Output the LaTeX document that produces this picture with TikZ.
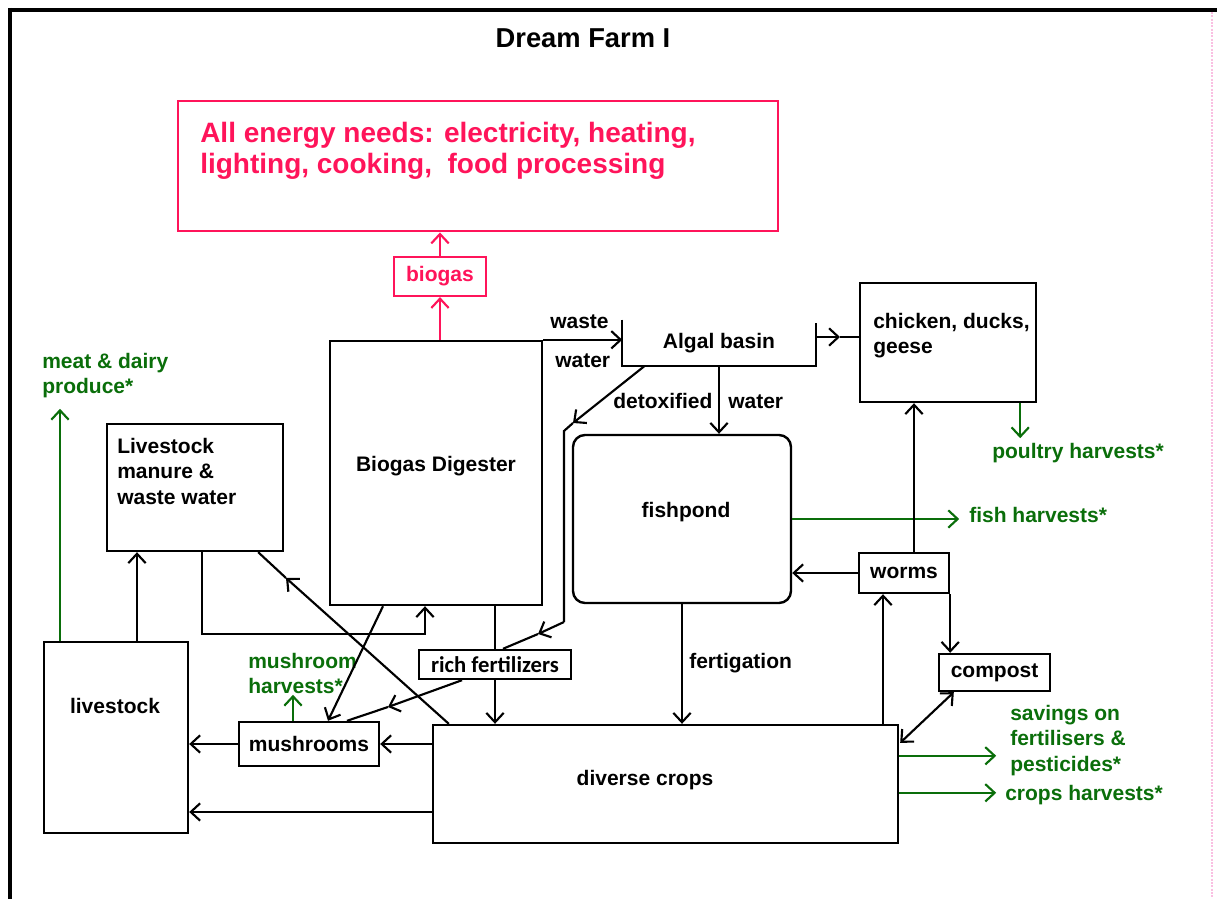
\documentclass[tikz,border=0pt]{standalone}
\usepackage{fontspec}
\setmainfont{Liberation Sans}
\newfontfamily\calfont{Carlito}
\usetikzlibrary{arrows.meta,fit,calc}
\definecolor{energypink}{RGB}{255,20,90}
\definecolor{harvestgreen}{RGB}{10,110,10}
\begin{document}
\begin{tikzpicture}[x=0.75pt, y=-0.75pt,
    every node/.style={font=\fontsize{15.75pt}{19pt}\selectfont\bfseries},
    box/.style={draw, line width=1.8pt, inner sep=0pt},
    txt/.style={inner sep=0pt, align=left},
    ln/.style={line width=1.6pt},
    arr/.style={line width=1.6pt, -{Straight Barb[length=7pt,width=13pt]}},
    darr/.style={line width=1.6pt, {Straight Barb[length=7pt,width=13pt]}-{Straight Barb[length=7pt,width=13pt]}},
    garr/.style={arr, harvestgreen},
    parr/.style={arr, energypink}]
  \useasboundingbox (0,0) rectangle (1218,899);
  \draw [line width=3pt] (8,10) -- (1217,10);
  \draw [line width=3pt] (10,8) -- (10,899);
  \draw [magenta!25, line width=1.5pt, densely dotted] (1212,12) -- (1212,899);

  \node (title) at (583,38) {\fontsize{20.5pt}{24pt}\selectfont Dream Farm I};

  \node [box, draw=energypink, line width=2.2pt, fit={(178,101) (778,231)}] (energy) {};
  \node [txt, text=energypink, anchor=north west, font=\fontsize{21pt}{23.5pt}\selectfont\bfseries] (energytxt) at (200,122)
    {All energy needs: electricity, heating,\\lighting, cooking,\ \ food processing};
  \node [box, draw=energypink, line width=1.6pt, text=energypink, minimum width=69pt, minimum height=29.25pt] (biogas) at (440,276.5) {biogas};

  \node [box, fit={(330,341) (542,605)}] (digester) {};
  \node [txt] (digestertxt) at (436,466) {Biogas Digester};
  \node [inner sep=0pt, minimum width=144.75pt, minimum height=34.5pt] (algal) at (719,343) {Algal basin};
  \draw [ln] (algal.north west) -- (algal.south west) -- (algal.south east) -- ($(algal.north east)+(0,3)$);
  \node [box, fit={(860,283) (1036,402)}] (chicken) {};
  \node [txt, anchor=north west] (chickentxt) at (873,313) {chicken, ducks,\\geese};
  \node [box, rounded corners=9pt, fit={(573,435) (791,603)}] (fish) {};
  \node [txt] (fishtxt) at (686,512) {fishpond};
  \node [box, minimum width=67.5pt, minimum height=30pt] (worms) at (904,573) {worms};
  \node [box, minimum width=83.25pt, minimum height=27.75pt] (compost) at (994.5,672.5) {compost};
  \node [box, minimum width=114pt, minimum height=21.75pt] (fert) at (495,664.5) {\calfont\fontsize{17pt}{20pt}\selectfont rich fertilizers};
  \node [box, minimum width=105pt, minimum height=33pt] (mush) at (309,744) {mushrooms};
  \node [box, fit={(433,725) (898,843)}] (crops) {};
  \node [txt] (cropstxt) at (645,780) {diverse crops};
  \node [box, fit={(44,642) (188,833)}] (livestock) {};
  \node [txt] (livestocktxt) at (115,706) {livestock};
  \node [box, fit={(107,424) (283,551)}] (manure) {};
  \node [txt, anchor=north west] (manuretxt) at (117,438) {Livestock\\manure \&\\waste water};

  \node [txt, text=harvestgreen, anchor=north west] (meatlbl) at (42,353) {meat \& dairy\\produce*};
  \node [txt, text=harvestgreen, anchor=north west] (mushlbl) at (248,653) {mushroom\\harvests*};
  \node [txt, text=harvestgreen, anchor=base west] (poultrylbl) at (992,458) {poultry harvests*};
  \node [txt, text=harvestgreen, anchor=base west] (fishlbl) at (969,522) {fish harvests*};
  \node [txt, text=harvestgreen, anchor=north west] (savelbl) at (1010,705) {savings on\\fertilisers \&\\pesticides*};
  \node [txt, text=harvestgreen, anchor=base west] (cropslbl) at (1005,800) {crops harvests*};

  \node [txt, anchor=base west] (wastelbl) at (550,328) {waste};
  \node [txt, anchor=base west] (waterlbl) at (555,367) {water};
  \node [txt, anchor=base west] (detoxlbl) at (613,408) {detoxified};
  \node [txt, anchor=base west] (water2lbl) at (728,408) {water};
  \node [txt, anchor=base west] (fertiglbl) at (689,668) {fertigation};

  \draw [parr] (digester.north -| biogas.south) -- (biogas.south);
  \draw [parr] (biogas.north) -- (biogas.north |- energy.south);

  \draw [arr] (digester.north east) -- (digester.north east -| algal.west);
  \coordinate (achk) at (840,337);
  \draw [arr] (algal.east |- achk) -- (achk);
  \draw [ln] (achk) -- (achk -| chicken.west);
  \draw [arr] (algal.south) -- (algal.south |- fish.north);

  \coordinate (dtx1) at (573,423);
  \coordinate (dtx2) at (564,431);
  \coordinate (dtx3) at (564,622);
  \coordinate (dtx4) at (538,634);
  \draw [arr] ($(algal.south west)+(22,0)$) -- (dtx1);
  \draw [ln] (dtx1) -- (dtx2) -- (dtx3);
  \draw [arr] (dtx3) -- (dtx4);
  \draw [ln] (dtx4) -- ($(fert.north)+(8,0)$);

  \draw [ln] (digester.south -| fert.north) -- (fert.north);
  \draw [arr] (fert.south) -- (fert.south |- crops.north);
  \coordinate (fmsh) at (388,707);
  \draw [arr] ($(fert.south)+(-33,0)$) -- (fmsh);
  \draw [ln] (fmsh) -- ($(mush.north)+(38,0)$);
  \draw [arr] ($(digester.south)+(-53,0)$) -- ($(mush.north)+(19,0)$);

  \coordinate (mdg) at (425,634);
  \draw [arr] ($(manure.south)+(7,0)$) |- (mdg) -- (mdg |- digester.south);
  \coordinate (cmn) at (286,578);
  \draw [arr] ($(crops.north west)+(17,0)$) -- (cmn);
  \draw [ln] (cmn) -- ($(manure.south east)+(-26,0)$);
  \coordinate (lmn) at ($(livestock.north)+(21,0)$);
  \draw [arr] (lmn) -- (lmn |- manure.south);
  \coordinate (lmt) at ($(livestock.north)+(-56,0)$);
  \draw [garr] (lmt) -- ($(lmt)+(0,-232)$);

  \draw [arr] (mush.west) -- (mush.west -| livestock.east);
  \draw [arr] (mush.east -| crops.west) -- (mush.east);
  \coordinate (clv) at ($(crops.west)+(0,28)$);
  \draw [arr] (clv) -- (clv -| livestock.east);
  \coordinate (mhv) at ($(mush.north)+(-16,0)$);
  \draw [garr] (mhv) -- ($(mhv)+(0,-26)$);

  \draw [arr] (fish.south) -- (fish.south |- crops.north);
  \draw [garr] (fish.east) -- ($(fish.east)+(167,0)$);
  \coordinate (cwm) at ($(worms.south)+(-21,0)$);
  \draw [arr] (cwm |- crops.north) -- (cwm);
  \draw [arr] (worms.west) -- (worms.west -| fish.east);
  \coordinate (wch) at ($(worms.north)+(10,0)$);
  \draw [arr] (wch) -- (wch |- chicken.south);
  \draw [arr] (worms.south east) -- (worms.south east |- compost.north);
  \draw [darr] ($(compost.south west)+(16,0)$) -- ($(crops.north east)+(1,19)$);
  \coordinate (cpl) at ($(chicken.south east)+(-17,0)$);
  \draw [garr] (cpl) -- ($(cpl)+(0,35)$);

  \coordinate (csv) at ($(crops.north east)+(0,32)$);
  \draw [garr] (csv) -- ($(csv)+(97,0)$);
  \coordinate (chv) at ($(crops.north east)+(0,69)$);
  \draw [garr] (chv) -- ($(chv)+(97,0)$);
\end{tikzpicture}
\end{document}
